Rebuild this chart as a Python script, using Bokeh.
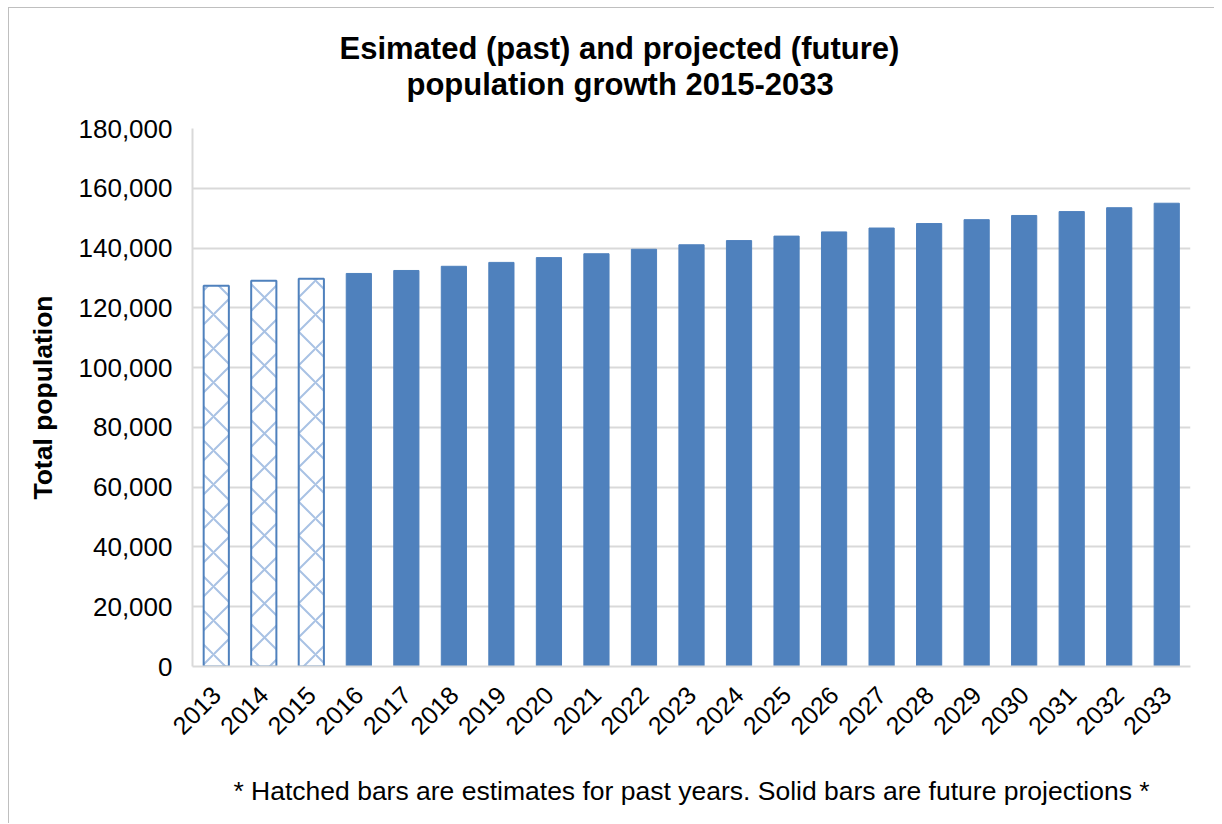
import math
from bokeh.plotting import figure
from bokeh.models import ColumnDataSource, NumeralTickFormatter, Title, FactorRange, Range1d, FixedTicker
from bokeh.embed import file_html
from bokeh.resources import INLINE

# ---- data ----
years = ["2013", "2014", "2015", "2016", "2017", "2018", "2019", "2020", "2021", "2022",
         "2023", "2024", "2025", "2026", "2027", "2028", "2029", "2030", "2031", "2032", "2033"]
estimate_years = ["2013", "2014", "2015"]
estimate_values = [127400, 129100, 129700]
projection_years = ["2016", "2017", "2018", "2019", "2020", "2021", "2022", "2023", "2024",
                    "2025", "2026", "2027", "2028", "2029", "2030", "2031", "2032", "2033"]
projection_values = [131500, 132500, 133900, 135200, 136800, 138100, 139600, 141100, 142500,
                     144000, 145400, 146700, 148200, 149500, 150900, 152200, 153500, 155000]
y_ticks = [0, 20000, 40000, 60000, 80000, 100000, 120000, 140000, 160000, 180000]

title_line1 = "Esimated (past) and projected (future)"
title_line2 = "population growth 2015-2033"
y_label = "Total population"
footnote = "* Hatched bars are estimates for past years. Solid bars are future projections *"

FONT = "Liberation Sans"

p = figure(x_range=FactorRange(*years), y_range=Range1d(0, 180000),
           width=1206, height=816, output_backend="svg", toolbar_location=None,
           min_border_left=183, min_border_right=25, min_border_top=120, min_border_bottom=158)
p.styles = {"margin-left": "8px", "margin-top": "7px",
            "border-left": "1px solid #bfbfbf", "border-top": "1px solid #bfbfbf"}
p.outline_line_color = None
p.background_fill_color = "white"
p.border_fill_color = "white"

est_src = ColumnDataSource(dict(x=estimate_years, top=estimate_values))
proj_src = ColumnDataSource(dict(x=projection_years, top=projection_values))

p.vbar(x="x", top="top", width=0.53, source=est_src,
       fill_color="white", line_color="#4f81bd", line_width=2,
       hatch_pattern="diagonal_cross", hatch_color="#a9c2e4", hatch_scale=34, hatch_weight=2)
p.vbar(x="x", top="top", width=0.53, source=proj_src,
       fill_color="#4f81bd", line_color="#4f81bd", line_width=1)

p.xgrid.grid_line_color = None
p.ygrid.grid_line_color = "#d9d9d9"
p.ygrid.grid_line_width = 2

for ax in (p.xaxis, p.yaxis):
    ax.axis_line_color = "#d9d9d9"
    ax.axis_line_width = 2
    ax.major_tick_line_color = None
    ax.minor_tick_line_color = None
    ax.major_label_text_font = FONT
    ax.major_label_text_font_size = "25px"
    ax.major_label_text_color = "#000000"

p.yaxis.major_label_text_font_size = "26px"
p.yaxis.ticker = FixedTicker(ticks=y_ticks)
p.yaxis.formatter = NumeralTickFormatter(format="0,0")
p.yaxis.major_label_standoff = 14
p.yaxis.axis_label = y_label
p.yaxis.axis_label_text_font = FONT
p.yaxis.axis_label_text_font_style = "bold"
p.yaxis.axis_label_text_font_size = "26.5px"
p.yaxis.axis_label_text_color = "#000000"
p.yaxis.axis_label_standoff = 18

p.xaxis.major_label_orientation = math.pi / 4
p.xaxis.major_label_standoff = 18
# footnote shown as the x-axis label, under the rotated year labels
p.xaxis.axis_label = footnote
p.xaxis.axis_label_text_font = FONT
p.xaxis.axis_label_text_font_style = "normal"
p.xaxis.axis_label_text_font_size = "26.5px"
p.xaxis.axis_label_text_color = "#000000"
p.xaxis.axis_label_standoff = 30

# titles stacked above (second line first, closest to the plot)
p.add_layout(Title(text=title_line2, align="left", offset=214, standoff=54,
                   text_font=FONT, text_font_style="bold", text_font_size="31px",
                   text_color="#000000"), "above")
p.add_layout(Title(text=title_line1, align="left", offset=147, standoff=-57,
                   text_font=FONT, text_font_style="bold", text_font_size="31px",
                   text_color="#000000"), "above")

open("out.html", "w").write(file_html(p, INLINE))
